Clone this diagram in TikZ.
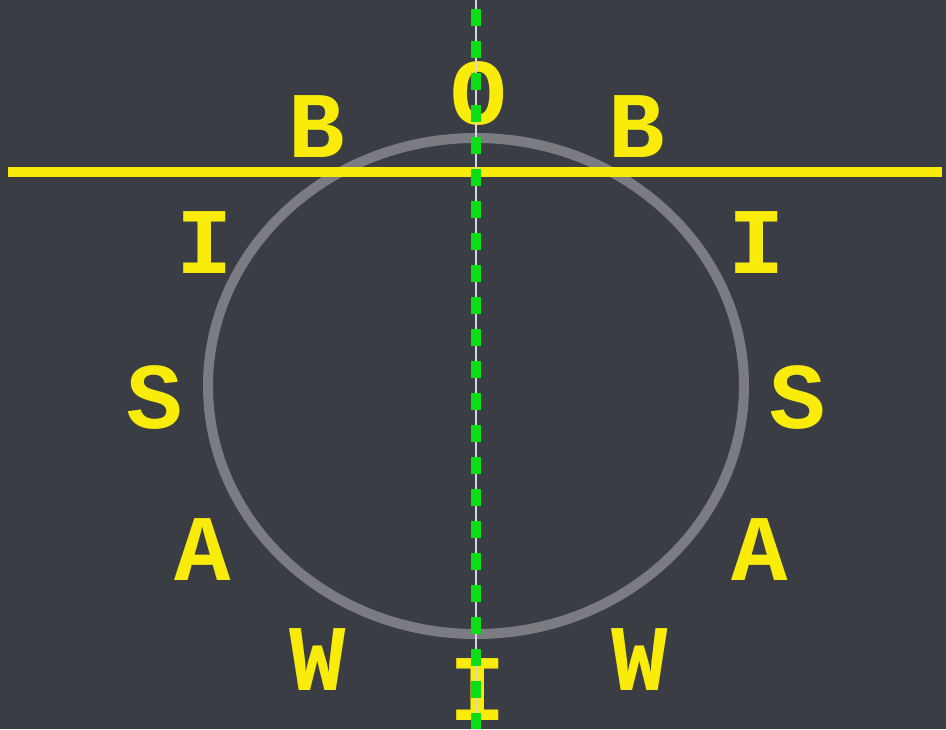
\documentclass[tikz,border=0pt]{standalone}
\usepackage{fontspec}
\setmainfont{Liberation Mono}
\definecolor{board}{RGB}{58,61,67}
\definecolor{chalkyellow}{RGB}{250,236,10}
\definecolor{ringgray}{RGB}{122,124,130}
\definecolor{dashgreen}{RGB}{10,222,20}
\definecolor{thinwhite}{RGB}{215,215,215}
\tikzset{
  letter/.style={text=chalkyellow, font=\bfseries\fontsize{94}{94}\selectfont, inner sep=0pt, anchor=center, text depth=0pt},
}
\begin{document}
\begin{tikzpicture}[x=1pt,y=-1pt]
\fill[board] (0,0) rectangle (946,729);
\useasboundingbox (0,0) rectangle (946,729);
% ring
\draw[ringgray, line width=10pt] (476,386) ellipse [x radius=268, y radius=248];
% letters
\node[letter] (o)  at (479,93) {O};
\node[letter] (bl) at (317,127) {B};
\node[letter] (br) at (637,127) {B};
\node[letter] (il) at (205,243) {I};
\node[letter] (ir) at (757,243) {I};
\node[letter] (sl) at (155,397) {S};
\node[letter] (sr) at (798,397) {S};
\node[letter] (al) at (203,550) {A};
\node[letter] (ar) at (760,550) {A};
\node[letter] (wl) at (318,660) {W};
\node[letter] (wr) at (640,660) {W};
\node[letter] (ib) at (478,690) {I};
% horizontal yellow line
\coordinate (hl) at (8,172);
\coordinate (hr) at (942,172);
\draw[chalkyellow, line width=10pt] (hl) -- (hr);
% vertical axis
\coordinate (vt) at (476,9);
\coordinate (vb) at (476,729);
\draw[thinwhite, line width=1.5pt] (476,0) -- (vb);
\draw[dashgreen, line width=9.5pt, dash pattern=on 16.5pt off 15.5pt] (vt) -- (vb);
\end{tikzpicture}
\end{document}
